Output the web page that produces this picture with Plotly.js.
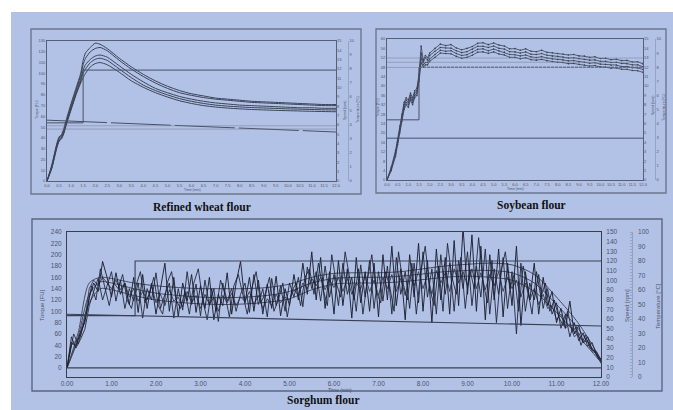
<!DOCTYPE html>
<html>
<head>
<meta charset="utf-8">
<script src="https://cdn.plot.ly/plotly-3.0.1.min.js"></script>
<style>
html,body{margin:0;padding:0;background:#fff;overflow:hidden;}
#chart{width:673px;height:410px;}
</style>
</head>
<body>
<div id="chart"></div>
<script>
// ---------- Panel A: Refined wheat flour ----------
const panelTitles = ['Refined wheat flour', 'Soybean flour', 'Sorghum flour'];
const tA = [0,0.2,0.4,0.5,0.6,0.7,0.8,1.0,1.2,1.4,1.5,1.6,1.8,2.0,2.2,2.5,3,3.5,4,4.5,5,5.5,6,6.5,7,7.5,8,8.5,9,9.5,10,10.5,11,11.5,12];
const wheat1 = [0,15,34,41,43,49,57,72,86,100,112,119,124,128,127,123,114,106,99,93,88,84,81,79,77,76,75,74,73.5,73,72.5,72,71.5,71,71];
const wheat2 = [0,14,33,40,42,47,55,70,84,98,108,114,120,123,124,121,112,104,97,91,86,82,79.5,77.5,76,75,74,73,72.5,72,71.5,71,70.5,70,70];
const wheat3 = [0,13,32,38,41,45,53,68,82,95,103,108,113,116,117,115,107,99,92,86,82,78.5,76,74,72.5,71.5,70.5,70,69.5,69,68.5,68,68,67.5,67.5];
const wheat4 = [0,12,31,37,39,44,52,66,80,93,100,104,110,113,114,112,104,96,89,84,80,76.5,74,72,70.5,69.5,68.8,68.2,67.8,67.4,67,66.7,66.4,66.1,66];
const wheat5 = [0,12,30,37,40,46,54,67,80,91,96,100,106,109,110,108,101,93,87,82,78,74.5,72,70,68.7,67.7,67,66.4,66,65.6,65.3,65,64.7,64.5,64.3];
const wheatStepT = [0,1.5,1.5,12];
const wheatStepY = [54,54,103,103];
const wheatTempT = [0,12];
const wheatTempY = [56.5,45.5];
const wheatRefLines = [51.3,48.2];

// ---------- Panel B: Soybean flour ----------
const tB = [0,0.2,0.4,0.5,0.6,0.7,0.8,0.9,1.0,1.1,1.2,1.3,1.4,1.5,1.6,1.7,1.8,1.9,2.0,
  2.25,2.5,2.75,3.0,3.25,3.5,3.75,4.0,4.25,4.5,4.75,5.0,5.25,5.5,5.75,6.0,6.25,6.5,6.75,7.0,
  7.25,7.5,7.75,8.0,8.25,8.5,8.75,9.0,9.25,9.5,9.75,10.0,10.25,10.5,10.75,11.0,11.25,11.5,11.75,12.0];
const soy1 = [0,5.5,12.5,17.5,23,28,33,35,34,37,35,38,39,45,57,51,53,52,54,
  56,57.8,57.2,57.6,56.2,55.4,56,56.8,58.2,58.4,57.6,58.3,57.4,57,55.8,55.9,55.2,55.8,54.8,54.6,
  55.2,54.3,54.1,53.8,53.6,53.2,53.4,52.8,52.7,52.2,52.4,51.7,51.8,51.2,51.4,50.8,50.9,50.2,50.3,49.4];
const soy2 = [0,5,11.5,16.5,22,27,32,34,33,36,34,37,38,44,54,50,52,51,53,
  54.8,56.4,56.2,56.1,55.0,54.2,54.6,55.6,56.9,56.9,56.4,57.0,56.0,55.7,54.6,54.5,54.0,54.5,53.5,53.4,
  53.8,53.1,52.7,52.6,52.3,51.9,52.0,51.6,51.3,51.0,51.1,50.5,50.5,50.0,50.1,49.6,49.5,49.0,49.0,48.2];
const soy3 = [0,4.5,11,16,21,26,31,33,32,35,33,36,37,43,52,49,50,50,51.5,
  53.4,55.2,54.8,55.0,53.8,53.0,53.3,54.3,55.6,55.8,55.0,55.7,54.9,54.4,53.4,53.3,52.8,53.2,52.4,52.1,
  52.5,51.9,51.5,51.3,51.1,50.7,50.8,50.3,50.1,49.7,49.9,49.3,49.2,48.8,48.9,48.3,48.3,47.8,47.7,47.0];
const soy4 = [0,4,10,15,20,25,30,32,31,34,32,35,36,42,50,48,49,49,50.5,
  52.2,54.0,53.8,53.7,52.6,51.8,52.2,53.1,54.4,54.5,53.9,54.5,53.6,53.2,52.2,52.2,51.6,52.0,51.2,51.0,
  51.3,50.7,50.4,50.1,50.0,49.5,49.6,49.2,48.9,48.5,48.7,48.1,48.0,47.6,47.7,47.1,47.1,46.6,46.5,45.8];
const soyStepT = [0,1.5,1.5];
const soyStepY = [25.6,25.6,48];
const soyPlateauT = [1.5,12];
const soyPlateauY = [48,48];
const soyRefLines = [51.9,50.1,47.9];
const soyTempY = [17.8,17.8];

// ---------- Panel C: Sorghum flour ----------
const tS = [0,0.1,0.2,0.3,0.4,0.5,0.6,0.7,0.8,0.9,1.0,1.1,1.2,1.3,1.4,1.5,1.6,1.7,1.8,1.9,
  2.0,2.1,2.2,2.3,2.4,2.5,2.6,2.7,2.8,2.9,3.0,3.1,3.2,3.3,3.4,3.5,3.6,3.7,3.8,3.9,
  4.0,4.1,4.2,4.3,4.4,4.5,4.6,4.7,4.8,4.9,5.0,5.1,5.2,5.3,5.4,5.5,5.6,5.7,5.8,5.9,
  6.0,6.1,6.2,6.3,6.4,6.5,6.6,6.7,6.8,6.9,7.0,7.1,7.2,7.3,7.4,7.5,7.6,7.7,7.8,7.9,
  8.0,8.1,8.2,8.3,8.4,8.5,8.6,8.7,8.8,8.9,9.0,9.1,9.2,9.3,9.4,9.5,9.6,9.7,9.8,9.9,
  10.0,10.1,10.2,10.3,10.4,10.5,10.6,10.7,10.8,10.9,11.0,11.1,11.2,11.3,11.4,11.5,11.6,11.7,11.8,11.9,12.0];
const tS2 = [0.05,0.15,0.25,0.35,0.45,0.55,0.65,0.75,0.85,0.95,1.05,1.15,1.25,1.35,1.45,1.55,1.65,1.75,1.85,1.95,
  2.05,2.15,2.25,2.35,2.45,2.55,2.65,2.75,2.85,2.95,3.05,3.15,3.25,3.35,3.45,3.55,3.65,3.75,3.85,3.95,
  4.05,4.15,4.25,4.35,4.45,4.55,4.65,4.75,4.85,4.95,5.05,5.15,5.25,5.35,5.45,5.55,5.65,5.75,5.85,5.95,
  6.05,6.15,6.25,6.35,6.45,6.55,6.65,6.75,6.85,6.95,7.05,7.15,7.25,7.35,7.45,7.55,7.65,7.75,7.85,7.95,
  8.05,8.15,8.25,8.35,8.45,8.55,8.65,8.75,8.85,8.95,9.05,9.15,9.25,9.35,9.45,9.55,9.65,9.75,9.85,9.95,
  10.05,10.15,10.25,10.35,10.45,10.55,10.65,10.75,10.85,10.95,11.05,11.15,11.25,11.35,11.45,11.55,11.65,11.75,11.85,11.95];
const sorgN1 = [0,45,38,62,80,125,150,135,188,160,
  125,168,130,150,112,160,98,165,105,150,
  95,140,185,100,160,90,150,118,165,98,
  145,105,160,85,130,110,168,95,150,188,
  115,160,100,155,95,148,105,162,92,140,
  110,165,120,185,130,205,120,195,105,170,
  95,190,110,175,88,195,115,170,100,185,
  90,200,120,215,110,175,85,200,125,220,
  100,190,80,210,120,195,95,225,110,248,
  130,235,100,215,85,200,120,210,90,185,
  110,215,75,170,120,185,95,160,110,135,
  80,105,70,118,60,75,45,55,32,28,
  12];
const sorgN2 = [0,55,35,50,68,110,135,158,120,145,
  170,118,155,105,140,118,150,88,140,120,
  168,105,130,150,88,140,102,170,112,148,
  92,155,110,140,82,150,118,140,100,130,
  150,98,165,112,140,90,158,110,145,100,
  150,125,160,108,178,140,170,118,180,125,
  165,110,185,130,160,100,182,125,190,105,
  170,118,180,95,195,130,170,105,185,115,
  205,125,175,95,200,130,185,100,190,140,
  205,110,180,125,210,95,175,130,195,105,
  170,60,185,100,150,120,165,105,140,95,
  115,70,95,55,80,48,62,38,45,22,
  15];
const sorgN3 = [0,40,48,55,85,140,155,145,160,150,
  140,155,138,150,125,140,118,135,120,145,
  115,130,110,138,118,125,108,135,115,128,
  105,130,112,125,100,128,115,132,110,125,
  118,135,112,128,105,122,110,130,115,125,
  120,138,128,150,140,158,145,160,138,155,
  142,160,135,158,130,150,140,162,135,155,
  128,160,140,165,135,158,128,162,145,170,
  140,165,130,172,150,168,135,175,150,170,
  145,175,140,168,138,165,145,170,135,160,
  140,155,125,150,120,140,112,130,105,110,
  85,95,70,78,55,62,45,48,30,25,
  8];
const sorgN4 = [20,60,42,70,100,145,120,175,140,110,
  150,140,165,120,105,145,170,115,130,160,
  110,95,150,170,120,105,135,95,150,175,
  120,85,140,100,155,130,90,145,165,130,
  95,140,170,115,130,160,100,120,150,90,
  135,150,110,160,175,130,185,140,110,200,
  150,125,205,160,120,175,95,155,200,135,
  115,170,145,100,205,150,120,185,95,170,
  215,140,110,180,100,220,160,130,195,105,
  175,140,230,150,115,190,80,170,205,140,
  165,100,180,140,95,170,125,150,100,120,
  90,75,100,65,72,40,58,35,30,15];
const tSm = [0,0.25,0.5,0.75,1,1.5,2,2.5,3,3.5,4,4.5,5,5.5,6,6.5,7,7.5,8,8.5,9,9.5,10,10.5,11,11.5,12];
const sorgS1 = [0,62,150,160,158,150,145,142,140,140,140,142,148,160,167,168,168,170,175,180,183,185,182,165,125,78,15];
const sorgS2 = [0,55,130,152,150,140,132,128,125,124,125,128,135,150,158,160,160,162,166,170,172,172,168,150,112,68,12];
const sorgS3 = [0,50,115,140,138,128,120,116,113,112,113,116,122,138,148,150,150,152,156,160,162,160,155,135,98,55,10];
const sorgZeroT = [0,12];
const sorgZeroY = [0,0];
const sorgSpeedT = [0,1.53,1.53,12];
const sorgSpeedY = [63.5,63.5,120,120];
const sorgTempT = [0,12];
const sorgTempY = [43.3,35.2];

// ---------- styling ----------
const BG = '#b2c2e7';
const DARK = '#1c2030';
const MID = '#3c4255';
const TXT = '#4d5367';
const FONT = 'Liberation Sans, Arial, sans-serif';
const SERIF = 'Liberation Serif, Times New Roman, serif';
const W = 673, H = 410;
const fx = p => p / W;
const fy = p => 1 - p / H;

const traces = [];
function line(x, y, xa, ya, color, width, extra) {
  traces.push(Object.assign({type:'scatter', mode:'lines', x:x, y:y, xaxis:xa, yaxis:ya,
    line:{color:color, width:width}, hoverinfo:'skip', showlegend:false}, extra || {}));
}

// Panel A
[wheat1, wheat2, wheat3, wheat4, wheat5].forEach(s => line(tA, s, 'x', 'y', MID, 1, {line:{color:MID,width:1,shape:'spline',smoothing:0.6}}));
line(wheatStepT, wheatStepY, 'x', 'y', '#4a5064', 1);
line(wheatTempT, wheatTempY, 'x', 'y', '#4a5064', 1, {line:{color:'#4a5064', width:1, dash:'60px,4px'}});
wheatRefLines.forEach(v => line([0,12], [v,v], 'x', 'y', 'rgba(110,118,140,0.6)', 0.8));
line([], [], 'x', 'y2', MID, 1);
line([], [], 'x', 'y3', MID, 1);

// Panel B
[soy1, soy2, soy3, soy4].forEach(s => line(tB, s, 'x2', 'y4', '#3a4054', 0.8, {mode:'lines+markers', marker:{size:1.6, color:'#3a4054'}}));
line(soyStepT, soyStepY, 'x2', 'y4', '#4a5064', 1);
line(soyPlateauT, soyPlateauY, 'x2', 'y4', '#4a5064', 1, {line:{color:'#4a5064', width:1, dash:'3px,1px'}});
soyRefLines.forEach(v => line([0,12], [v,v], 'x2', 'y4', 'rgba(110,118,140,0.6)', 0.8));
line([0,12], soyTempY, 'x2', 'y4', '#4a5064', 1);
line([], [], 'x2', 'y5', MID, 1);
line([], [], 'x2', 'y6', MID, 1);

// Panel C
[sorgS1, sorgS2, sorgS3].forEach(s => line(tSm, s, 'x3', 'y7', '#3a4054', 0.9, {line:{color:'#3a4054', width:0.9, shape:'spline', smoothing:0.8}}));
line(tS, sorgN3, 'x3', 'y7', '#2c3142', 0.85);
line(tS2, sorgN4, 'x3', 'y7', DARK, 0.85);
line(tS, sorgN2, 'x3', 'y7', DARK, 0.85);
line(tS, sorgN1, 'x3', 'y7', DARK, 0.95);
line(sorgZeroT, sorgZeroY, 'x3', 'y7', '#3a4054', 1.2);
line(sorgSpeedT, sorgSpeedY, 'x3', 'y8', '#3a4054', 1.1);
line(sorgTempT, sorgTempY, 'x3', 'y9', '#3a4054', 1.1);

const tinyFont = {family:FONT, size:4, color:TXT};
const baseAxis = {showgrid:false, zeroline:false, fixedrange:true, ticks:'', showline:false};
function ax(o) { return Object.assign({}, baseAxis, o); }
function ann(text, x, y, size, family, angle) {
  return {text:text, x:fx(x), y:fy(y), xref:'paper', yref:'paper', xanchor:'center', yanchor:'middle',
    showarrow:false, textangle:angle || 0, font:{family:family || FONT, size:size, color: family === SERIF ? '#111' : TXT}};
}

const layout = {
  width:W, height:H,
  margin:{l:0, r:0, t:0, b:0, pad:0},
  autosize:false,
  paper_bgcolor:'#ffffff',
  plot_bgcolor:'rgba(0,0,0,0)',
  showlegend:false,
  font:{family:FONT, color:TXT},
  // Panel A
  xaxis: ax({domain:[fx(47), fx(336)], anchor:'y', range:[0,12], tick0:0, dtick:0.5, tickformat:'.1f',
    showline:true, mirror:true, linecolor:'#585f74', linewidth:1, tickfont:tinyFont}),
  yaxis: ax({domain:[fy(181), fy(41)], anchor:'x', range:[0,130], dtick:10,
    showline:true, mirror:true, linecolor:'#585f74', linewidth:1, tickfont:tinyFont}),
  yaxis2: ax({overlaying:'y', side:'right', anchor:'x', range:[0,15], dtick:1, tickfont:tinyFont}),
  yaxis3: ax({overlaying:'y', side:'right', anchor:'free', position:fx(348), range:[0,10], dtick:1,
    showline:true, linecolor:'rgba(100,108,130,0.45)', linewidth:0.8, tickfont:tinyFont}),
  // Panel B
  xaxis2: ax({domain:[fx(387), fx(643)], anchor:'y4', range:[0,12], tick0:0, dtick:0.5, tickformat:'.1f',
    showline:true, mirror:true, linecolor:'#585f74', linewidth:1, tickfont:tinyFont}),
  yaxis4: ax({domain:[fy(180), fy(39)], anchor:'x2', range:[0,60], dtick:4,
    showline:true, mirror:true, linecolor:'#585f74', linewidth:1, tickfont:tinyFont}),
  yaxis5: ax({overlaying:'y4', side:'right', anchor:'x2', range:[0,15], dtick:1, tickfont:tinyFont}),
  yaxis6: ax({overlaying:'y4', side:'right', anchor:'free', position:fx(655), range:[0,10], dtick:1,
    showline:true, linecolor:'rgba(100,108,130,0.45)', linewidth:0.8, tickfont:tinyFont}),
  // Panel C
  xaxis3: ax({domain:[fx(67), fx(601)], anchor:'y7', range:[0,12], tick0:0, dtick:1, tickformat:'.2f',
    showline:true, mirror:true, linecolor:'#3a3f50', linewidth:1,
    tickfont:{family:FONT, size:6.5, color:TXT}}),
  yaxis7: ax({domain:[fy(377), fy(232)], anchor:'x3', range:[-16,240], tick0:0, dtick:20,
    showline:true, mirror:true, linecolor:'#3a3f50', linewidth:1,
    ticks:'outside', ticklen:3, tickcolor:'rgba(0,0,0,0)',
    tickfont:{family:FONT, size:6.5, color:TXT}}),
  yaxis8: ax({overlaying:'y7', side:'right', anchor:'x3', range:[0,150], dtick:10,
    ticks:'outside', ticklen:3, tickcolor:'rgba(0,0,0,0)',
    tickfont:{family:FONT, size:6.5, color:TXT}}),
  yaxis9: ax({overlaying:'y7', side:'right', anchor:'free', position:fx(632), range:[0,100], dtick:10,
    showline:true, linecolor:'rgba(110,118,140,0.55)', linewidth:0.8,
    ticks:'outside', ticklen:4, tickcolor:'rgba(0,0,0,0)',
    minor:{dtick:2, ticks:'inside', ticklen:2, tickcolor:'rgba(100,108,130,0.6)', tickwidth:0.6},
    tickfont:{family:FONT, size:6.5, color:TXT}}),
  shapes:[
    {type:'rect', xref:'paper', yref:'paper', x0:fx(11), x1:1, y0:0, y1:fy(12), fillcolor:BG, line:{width:0}, layer:'below'},
    {type:'rect', xref:'paper', yref:'paper', x0:fx(31), x1:fx(361), y0:fy(194), y1:fy(29), line:{color:'#6c7690', width:1.4}, layer:'below'},
    {type:'rect', xref:'paper', yref:'paper', x0:fx(376), x1:fx(666), y0:fy(193), y1:fy(29), line:{color:'#6c7690', width:1.4}, layer:'below'},
    {type:'rect', xref:'paper', yref:'paper', x0:fx(32), x1:fx(662), y0:fy(391), y1:fy(219), line:{color:'#5c6680', width:1.4}, layer:'below'}
  ],
  annotations:[
    ann('<b>'+panelTitles[0]+'</b>', 202, 207, 11.5, SERIF),
    ann('<b>'+panelTitles[1]+'</b>', 531, 205, 11.5, SERIF),
    ann('<b>'+panelTitles[2]+'</b>', 323, 400, 11.5, SERIF),
    ann('Torque [FU]', 42, 305, 6, FONT, -90),
    ann('Time (min)', 340, 389.5, 5),
    ann('Speed [rpm]', 627, 306, 6, FONT, -90),
    ann('Temperature [°C]', 658, 306, 6, FONT, -90),
    ann('Torque (FU)', 37, 110, 3.5, FONT, -90),
    ann('Time (min)', 192, 190, 3.5),
    ann('Speed (rpm)', 345, 110, 3.5, FONT, -90),
    ann('Temperature (°C)', 358, 110, 3.5, FONT, -90),
    ann('Torque (FU)', 378, 108, 3.5, FONT, -90),
    ann('Time (min)', 515, 189, 3.5),
    ann('Speed (rpm)', 653, 106, 3.5, FONT, -90),
    ann('Temperature (°C)', 664, 108, 3.5, FONT, -90)
  ]
};

Plotly.newPlot('chart', traces, layout, {staticPlot:true, displayModeBar:false});
</script>
</body>
</html>
